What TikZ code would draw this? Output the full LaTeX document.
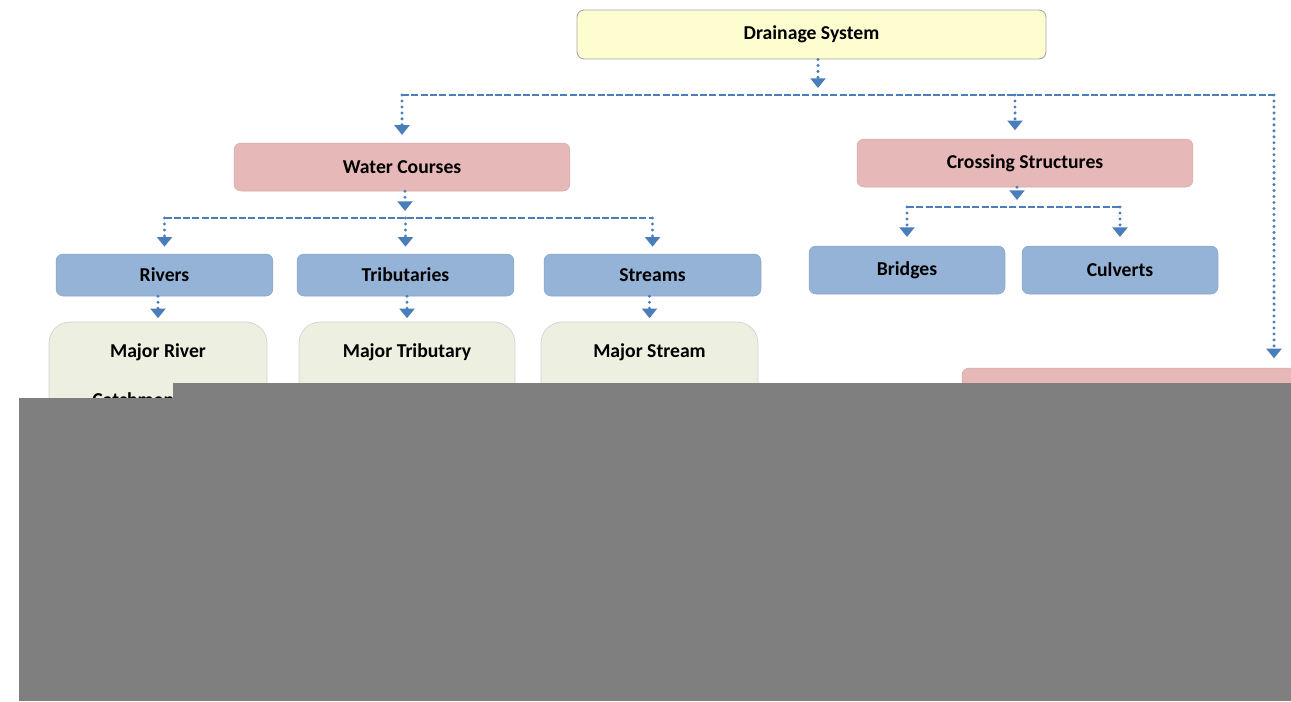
\documentclass[tikz,border=0pt]{standalone}
\usepackage{fontspec}
\setmainfont{Carlito}
\usepackage{xcolor}
\usepackage{tikz}
\usetikzlibrary{arrows.meta}
\definecolor{topyellow}{HTML}{FEFDD0}
\definecolor{headpink}{HTML}{E6B9B8}
\definecolor{itemblue}{HTML}{95B3D7}
\definecolor{subbeige}{HTML}{EDEFE1}
\definecolor{lineblue}{HTML}{4A7EBB}
\definecolor{coverGray}{HTML}{7F7F7F}
\tikzset{
  box/.style={rounded corners=4pt, inner sep=0pt, font=\fontsize{11.2}{13}\selectfont\bfseries},
  topbox/.style={box, fill=topyellow, draw=gray!70, line width=0.5pt},
  headbox/.style={box, fill=headpink, draw=headpink!92!black, line width=0.3pt},
  itembox/.style={box, fill=itemblue, draw=itemblue!92!black, line width=0.3pt},
  subbox/.style={rounded corners=12pt, fill=subbeige, draw=gray!35, line width=0.4pt},
  subtext/.style={inner sep=0pt, font=\fontsize{11.2}{13}\selectfont\bfseries},
  bus/.style={lineblue, line width=1.1pt, dash pattern=on 4pt off 1.3pt},
  stem/.style={lineblue, line width=1.9pt, line cap=round, dash pattern=on 0pt off 3.4pt,
    -{Triangle[width=8.5pt,length=5.5pt]}}
}
\begin{document}
\begin{tikzpicture}[x=0.02cm,y=-0.02cm]
\useasboundingbox (0,0) rectangle (1291,701);
% top
\node[topbox, minimum width=9.38cm, minimum height=0.98cm] (ds) at (811.5,34.5) {Drainage System};
\coordinate (bus1) at (818,95);
\draw[stem, shorten >=4pt] (ds.south -| bus1) -- (bus1);
%
\node[headbox, minimum width=6.72cm, minimum height=0.96cm] (wc) at (402,167) {Water Courses};
\node[headbox, minimum width=6.72cm, minimum height=0.96cm] (cs) at (1025,163) {Crossing Structures};
\node[headbox, minimum width=7.36cm, minimum height=4.64cm] (ow) at (1146,484) {};
\coordinate (csin) at (1015,139);
\coordinate (owin) at (1274,368);
\draw[bus] (wc.north |- bus1) -- (owin |- bus1);
\draw[stem, shorten >=4.5pt] (wc.north |- bus1) -- (wc.north);
\draw[stem, shorten >=5pt] (csin |- bus1) -- (csin);
\draw[stem, shorten >=5.5pt] (owin |- bus1) -- (owin);
%
\node[itembox, minimum width=4.34cm, minimum height=0.84cm] (rv) at (164.5,275) {Rivers};
\node[itembox, minimum width=4.34cm, minimum height=0.84cm] (tb) at (405.5,275) {Tributaries};
\node[itembox, minimum width=4.34cm, minimum height=0.84cm] (st) at (652.5,275) {Streams};
\coordinate (bus2) at (405,218);
\draw[stem, shorten >=4pt] (wc.south -| bus2) -- (bus2);
\draw[bus] (rv.north |- bus2) -- (st.north |- bus2);
\foreach \n in {rv,tb,st}
  \draw[stem, shorten >=4pt] (\n.north |- bus2) -- (\n.north);
%
\node[itembox, minimum width=3.92cm, minimum height=0.96cm] (br) at (907,270) {Bridges};
\node[itembox, minimum width=3.92cm, minimum height=0.96cm] (cv) at (1120,270) {Culverts};
\coordinate (bus3) at (1017,207);
\draw[stem, shorten >=4pt] (cs.south -| bus3) -- (bus3);
\draw[bus] (br.north |- bus3) -- (cv.north |- bus3);
\foreach \n in {br,cv}
  \draw[stem, shorten >=5pt] (\n.north |- bus3) -- (\n.north);
%
\node[subbox, minimum width=4.36cm, minimum height=6.36cm] (mr) at (158,481) {};
\node[subbox, minimum width=4.32cm, minimum height=6.36cm] (mt) at (407,481) {};
\node[subbox, minimum width=4.34cm, minimum height=6.36cm] (ms) at (649.5,481) {};
\node[subtext] (mrt) at (158,352) {Major River};
\node[subtext] (mtt) at (407,352) {Major Tributary};
\node[subtext] (mst) at (649.5,352) {Major Stream};
\node[subtext, anchor=west] (mrc) at (92,400) {Catchment};
\draw[stem, shorten >=2pt] (rv.south -| mrt) -- (mr.north);
\draw[stem, shorten >=2pt] (tb.south -| mtt) -- (mt.north);
\draw[stem, shorten >=2pt] (st.south -| mst) -- (ms.north);
% cover
\fill[coverGray] (173,383) rectangle (1291,701);
\fill[coverGray] (19,398) rectangle (173,701);
\end{tikzpicture}
\end{document}
